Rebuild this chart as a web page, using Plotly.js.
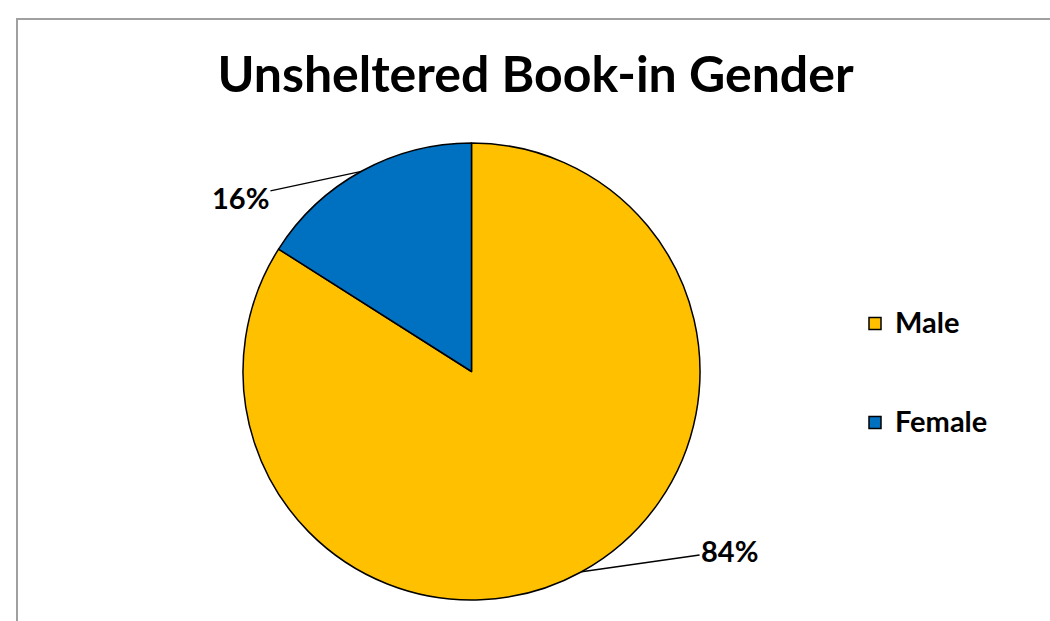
<!DOCTYPE html>
<html><head><meta charset="utf-8">
<script src="https://cdn.plot.ly/plotly-3.0.1.min.js"></script>
<style>
html,body{margin:0;padding:0;background:#fff;}
#wrap{position:relative;width:1050px;height:621px;overflow:hidden;}
#chart{width:1050px;height:621px;}
#frame{position:absolute;left:16px;top:18px;width:1100px;height:700px;border:2px solid #a0a0a0;pointer-events:none;}
</style>
</head><body>
<div id="wrap"><div id="chart"></div><div id="frame"></div></div>
<script>
const categories = ['Male', 'Female'];
const values = [84, 16];
const sliceColors = ['#FFC000', '#0070C0'];
const chartTitle = 'Unsheltered Book-in Gender';

const W = 1050, H = 621;
const pieCx = 471.5, pieCy = 371.5, pieR = 228.5;
const domX = [(pieCx - pieR) / W, (pieCx + pieR) / W];
const domY = [1 - (pieCy + pieR) / H, 1 - (pieCy - pieR) / H];

const total = values.reduce((a, b) => a + b, 0);
// label offsets (pixels) from the slice edge to the label text
const labelOffsets = [{ax: 148, ay: -21}, {ax: -121, ay: 26}];
const annotations = [];
let cum = 0;
values.forEach((v, i) => {
  const mid = (cum + v / 2) / total * 2 * Math.PI;
  cum += v;
  const px = pieCx + pieR * Math.sin(mid);
  const py = pieCy - pieR * Math.cos(mid);
  annotations.push({
    x: px / W, y: 1 - py / H, xref: 'paper', yref: 'paper',
    text: Math.round(v / total * 100) + '%',
    showarrow: true, arrowhead: 0, arrowwidth: 1.3, arrowcolor: '#000',
    ax: labelOffsets[i].ax, ay: labelOffsets[i].ay,
    font: {family: 'Lato, sans-serif', size: 29, color: '#000', weight: 'bold'}
  });
});

const trace = {
  type: 'pie',
  labels: categories.map(c => '<br><span style="font-size:29px">' + c + '</span><br> '),
  values: values,
  sort: false,
  direction: 'clockwise',
  rotation: 0,
  textinfo: 'none',
  hoverinfo: 'none',
  marker: {colors: sliceColors, line: {color: '#000', width: 1.5}},
  domain: {x: domX, y: domY}
};

const layout = {
  width: W, height: H,
  margin: {l: 0, r: 0, t: 0, b: 0},
  paper_bgcolor: '#fff',
  title: {
    text: '<b>' + chartTitle + '</b>',
    x: 0.51, xanchor: 'center',
    y: 1 - 74 / H, yanchor: 'middle', yref: 'container',
    font: {family: 'Lato, sans-serif', size: 50, color: '#000'}
  },
  showlegend: true,
  legend: {
    x: 855 / W, xanchor: 'left',
    y: 1 - 269 / H, yanchor: 'top',
    font: {family: 'Lato, sans-serif', size: 24.6, color: '#000', weight: 'bold'},
    bgcolor: 'rgba(0,0,0,0)'
  },
  annotations: annotations
};

Plotly.newPlot('chart', [trace], layout, {displayModeBar: false, staticPlot: true});
</script>
</body></html>
